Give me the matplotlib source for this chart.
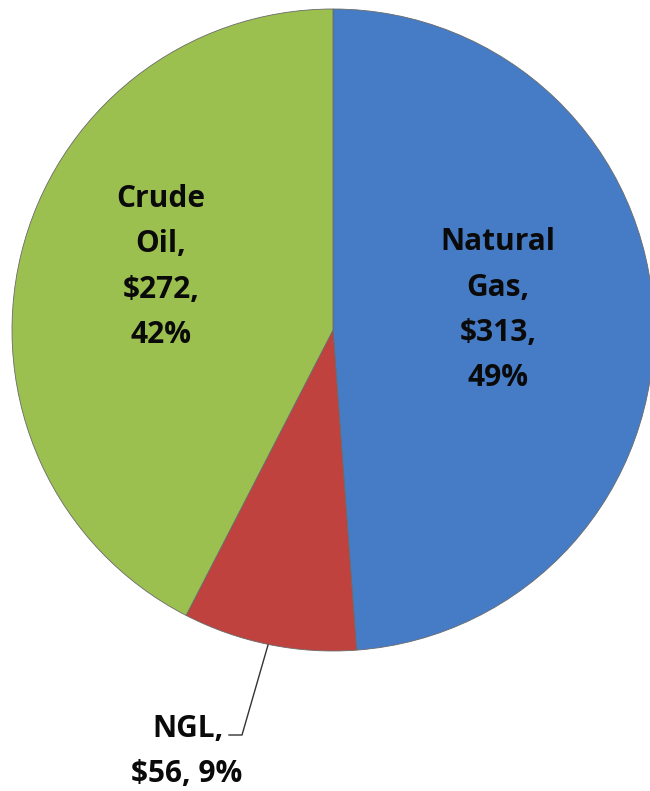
import matplotlib
matplotlib.use("Agg")
from matplotlib import pyplot as plt

# values in $ (billions), clockwise from 12 o'clock
categories = ["Natural Gas", "NGL", "Crude Oil"]
values = [313, 56, 272]
label_lines = [["Natural", "Gas,", "$313,", "49%"],
               ["NGL,", "$56, 9%"],
               ["Crude", "Oil,", "$272,", "42%"]]
colors = ["#467cc6", "#bf423f", "#9cc050"]

W, H = 650, 791
fig = plt.figure(figsize=(W / 100, H / 100), dpi=100)
ax = fig.add_axes([0, 0, 1, 1])

# pixel coords -> data coords (y flipped)
cx, cy, r = 333, H - 330, 321

wedges, _ = ax.pie(values, colors=colors, startangle=90, counterclock=False,
                   center=(cx, cy), radius=r, frame=True,
                   wedgeprops=dict(edgecolor="#6a6a6a", linewidth=0.6))
ax.set_xlim(0, W)
ax.set_ylim(0, H)
ax.set_aspect("equal")
ax.axis("off")

font = dict(family=["Open Sans", "DejaVu Sans"], fontweight="bold", fontsize=21.5,
            color="#0a0a0a", ha="center", va="baseline")

def block(x, y0, lines, step=45.5):
    # one text per line, baselines step px apart
    for i, s in enumerate(lines):
        ax.text(x, H - (y0 + i * step), s, **font)

block(498, 250, label_lines[0])
block(161, 207, label_lines[2], step=45.3)

# NGL label outside with leader line
ax.plot([268, 242, 229], [H - 645, H - 735, H - 735], color="#333333", lw=1)
ax.text(224, H - 737, label_lines[1][0], **{**font, "ha": "right"})
ax.text(187, H - 782, label_lines[1][1], **font)

fig.savefig("out.png", dpi=100)
